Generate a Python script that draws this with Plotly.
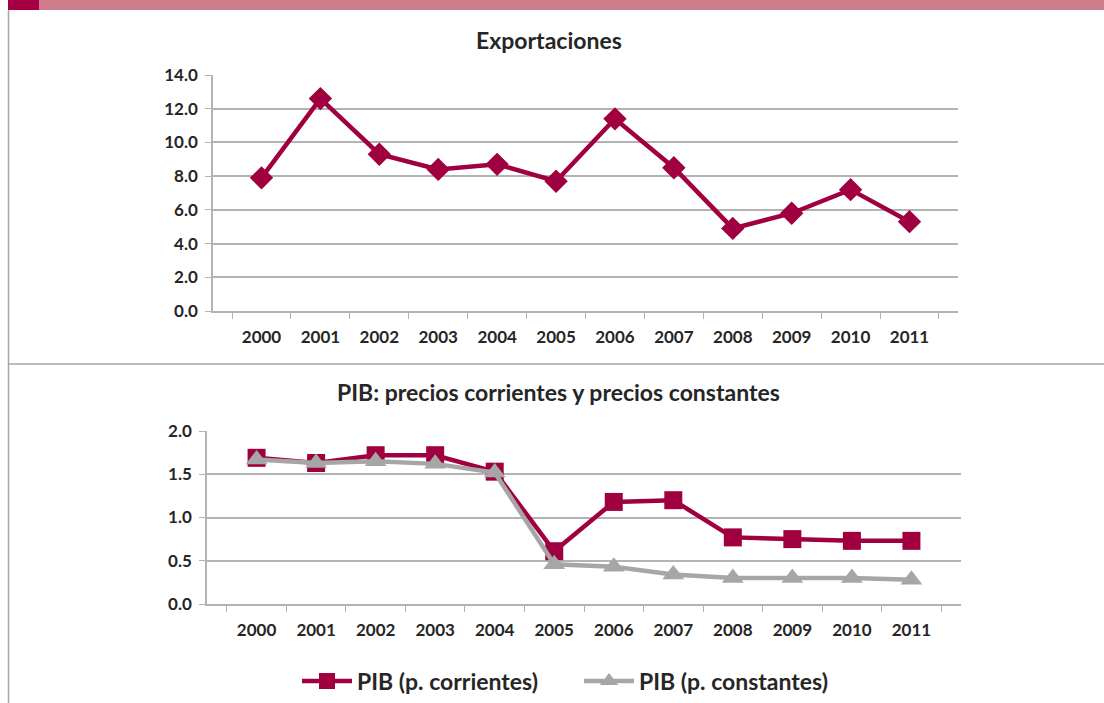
import plotly.graph_objects as go

years = ["2000", "2001", "2002", "2003", "2004", "2005", "2006", "2007", "2008", "2009", "2010", "2011"]
exportaciones = [7.9, 12.6, 9.3, 8.4, 8.7, 7.7, 11.4, 8.5, 4.9, 5.8, 7.2, 5.3]
pib_corrientes = [1.69, 1.63, 1.72, 1.72, 1.53, 0.61, 1.18, 1.20, 0.77, 0.75, 0.73, 0.73]
pib_constantes = [1.67, 1.63, 1.65, 1.62, 1.52, 0.46, 0.43, 0.34, 0.30, 0.30, 0.30, 0.28]

top_title = "Exportaciones"
bottom_title = "PIB: precios corrientes y precios constantes"
name_corr = "PIB (p. corrientes)"
name_const = "PIB (p. constantes)"

W, H = 1104, 703
CRIMSON = "#A0003F"
GREY = "#A6A6A6"
GRID = "#B3B3B3"
TXT = "#262626"
FONT = "Lato"

def px(x):
    return x / W

def py(y):
    return 1 - y / H

fig = go.Figure()

fig.add_trace(go.Scatter(
    x=years, y=exportaciones, mode="lines+markers", xaxis="x", yaxis="y",
    line=dict(color=CRIMSON, width=4.5), marker=dict(symbol="diamond", size=18, color=CRIMSON),
    showlegend=False))

fig.add_trace(go.Scatter(
    x=years, y=pib_corrientes, mode="lines+markers", xaxis="x2", yaxis="y2", name=name_corr,
    line=dict(color=CRIMSON, width=4.5), marker=dict(symbol="square", size=18, color=CRIMSON)))

fig.add_trace(go.Scatter(
    x=years, y=pib_constantes, mode="lines+markers", xaxis="x2", yaxis="y2", name=name_const,
    line=dict(color=GREY, width=4.5), marker=dict(symbol="triangle-up", size=19, color=GREY)))

tickfont = dict(family=FONT, size=17, color=TXT, weight="bold")

common_x = dict(type="category", tickson="boundaries", ticks="outside", ticklen=6, tickcolor=GRID,
                showline=True, linecolor=GRID, linewidth=1.5, showgrid=False, tickfont=tickfont,
                zeroline=False, fixedrange=True, automargin=False, ticklabelstandoff=10)
common_y = dict(ticks="outside", ticklen=6, tickcolor=GRID, showline=True, linecolor=GRID, linewidth=1.5,
                showgrid=True, gridcolor=GRID, gridwidth=1.5, tickfont=tickfont, zeroline=False,
                fixedrange=True, ticklabelstandoff=4, automargin=False)

fig.update_layout(
    width=W, height=H,
    margin=dict(l=0, r=0, t=0, b=0, autoexpand=False),
    paper_bgcolor="white", plot_bgcolor="white",
    font=dict(family=FONT, color=TXT),
    xaxis=dict(common_x, domain=[px(213), px(958)], anchor="y"),
    yaxis=dict(common_y, domain=[py(311), py(75)], anchor="x", range=[0, 14], dtick=2, tickformat=".1f"),
    xaxis2=dict(common_x, domain=[px(207), px(961)], anchor="y2"),
    yaxis2=dict(common_y, domain=[py(604), py(431)], anchor="x2", range=[0, 2], dtick=0.5, tickformat=".1f"),
    legend=dict(orientation="h", x=px(297), xanchor="left", y=py(681), yanchor="middle",
                font=dict(family=FONT, size=23, color=TXT, weight="bold"), itemwidth=50,
                entrywidth=217, entrywidthmode="pixels",
                bgcolor="rgba(0,0,0,0)", traceorder="normal"),
    annotations=[
        dict(text="<b>" + top_title + "</b>", x=px(549), y=py(40), xref="paper", yref="paper",
             xanchor="center", yanchor="middle",
             showarrow=False, font=dict(family=FONT, size=23, color=TXT)),
        dict(text="<b>" + bottom_title + "</b>", x=px(558), y=py(392), xref="paper", yref="paper",
             xanchor="center", yanchor="middle",
             showarrow=False, font=dict(family=FONT, size=23, color=TXT)),
    ],
    shapes=[
        dict(type="rect", xref="paper", yref="paper", x0=px(39), x1=1, y0=py(10), y1=1,
             fillcolor="#CF7D8A", line=dict(width=0), layer="below"),
        dict(type="rect", xref="paper", yref="paper", x0=px(8), x1=px(39), y0=py(10), y1=1,
             fillcolor="#A50044", line=dict(width=0), layer="below"),
        dict(type="line", xref="paper", yref="paper", x0=px(8.5), x1=px(8.5), y0=0, y1=py(10),
             line=dict(color="#A6A6A6", width=1.5)),
        dict(type="line", xref="paper", yref="paper", x0=px(8), x1=1, y0=py(364), y1=py(364),
             line=dict(color="#A6A6A6", width=1.5)),
    ],
)

fig.write_html("out.html", config={"displayModeBar": False},
               post_script="document.body.style.margin='0';document.body.style.overflow='hidden';")
